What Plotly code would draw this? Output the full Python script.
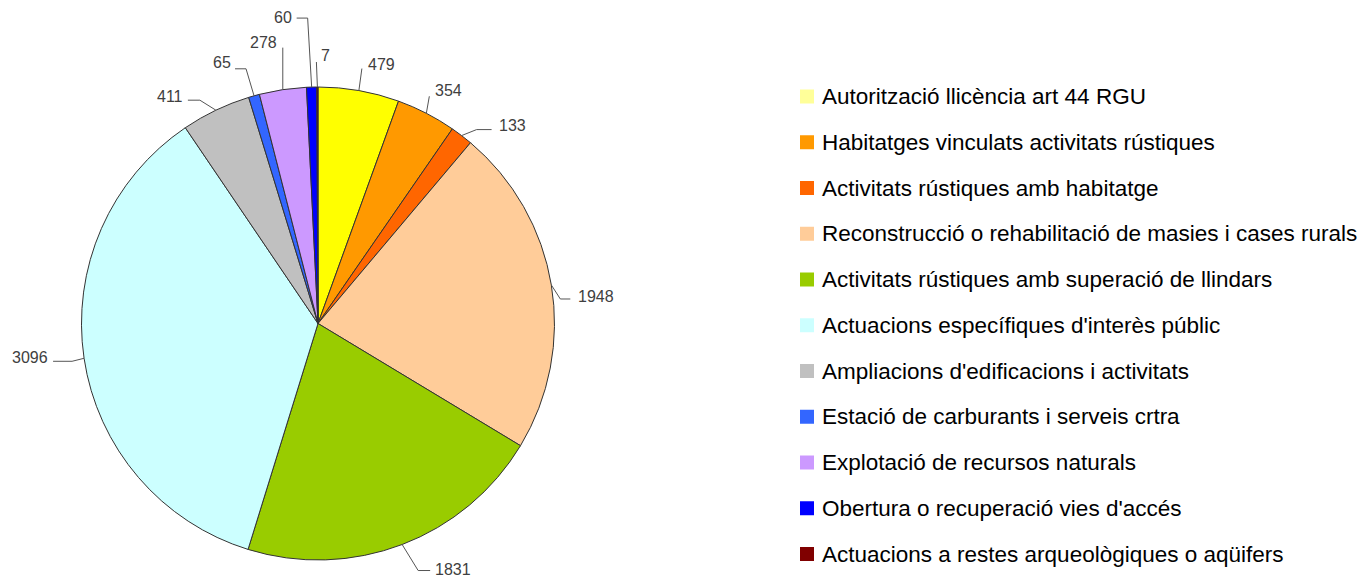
import math
import plotly.graph_objects as go

categories = [
    "Autorització llicència art 44 RGU",
    "Habitatges vinculats activitats rústiques",
    "Activitats rústiques amb habitatge",
    "Reconstrucció o rehabilitació de masies i cases rurals",
    "Activitats rústiques amb superació de llindars",
    "Actuacions específiques d'interès públic",
    "Ampliacions d'edificacions i activitats",
    "Estació de carburants i serveis crtra",
    "Explotació de recursos naturals",
    "Obertura o recuperació vies d'accés",
    "Actuacions a restes arqueològiques o aqüifers",
]
values = [479, 354, 133, 1948, 1831, 3096, 411, 65, 278, 60, 7]

slice_colors = ["#FFFF00", "#FF9900", "#FF6600", "#FFCC99", "#99CC00", "#CCFFFF",
                "#C0C0C0", "#3366FF", "#CC99FF", "#0000FF", "#800000"]
legend_colors = ["#FFFF99"] + slice_colors[1:]

W, H = 1364, 578

# pie geometry in pixels
cx, cy, r = 318, 323.5, 236.5

# leader line style per label: elbow offset from the rim, horizontal run,
# text anchor side and text offset from the line end
leaders = [
    ((3, -22), 0, "left", (4, -4)),
    ((3, -17), 0, "left", (4, -6)),
    ((15, -6), 15, "left", (5, -4)),
    ((9, 14), 10, "left", (6, -2)),
    ((16, 26), 12, "left", (3, -1)),
    ((-12, 3), -19, "right", (-3, -4)),
    ((-16, -10), -12, "right", (-3, -4)),
    ((-8, -27), -11, "right", (-2, -6)),
    ((0, -42), 0, "right", (-4, -5)),
    ((-4, -69), -11, "right", (-3, -1)),
    ((-1, -25), 0, "left", (3, -7)),
]


def px(x):
    return x / W


def py(y):
    return 1 - y / H


fig = go.Figure()

fig.add_trace(go.Pie(
    labels=categories,
    values=values,
    sort=False,
    direction="clockwise",
    rotation=0,
    textinfo="none",
    hoverinfo="label+value+percent",
    marker=dict(colors=slice_colors, line=dict(color="#333333", width=1)),
    domain=dict(x=[px(cx - r), px(cx + r)], y=[py(cy + r), py(cy - r)]),
    showlegend=False,
))

shapes = []
annotations = []

total = sum(values)
cum = 0
for v, (elbow, run, side, toff) in zip(values, leaders):
    ang = (cum + v / 2) / total * 2 * math.pi
    cum += v
    ex = cx + r * math.sin(ang)
    ey = cy - r * math.cos(ang)
    bx, by = ex + elbow[0], ey + elbow[1]
    tx, ty = bx + run, by
    shapes.append(dict(
        type="path", xref="paper", yref="paper",
        path=f"M {px(ex)} {py(ey)} L {px(bx)} {py(by)} L {px(tx)} {py(ty)}",
        line=dict(color="#555555", width=1),
    ))
    annotations.append(dict(
        x=px(tx + toff[0]), y=py(ty + toff[1]), xref="paper", yref="paper",
        text=str(v), showarrow=False, xanchor=side, yanchor="middle",
        font=dict(family="Liberation Sans, Arial", size=16, color="#404040"),
    ))

# legend
leg_x, leg_y0, leg_dy, sq = 800, 96.5, 45.75, 14
for i, (name, col) in enumerate(zip(categories, legend_colors)):
    yc = leg_y0 + i * leg_dy
    shapes.append(dict(
        type="rect", xref="paper", yref="paper",
        x0=px(leg_x), x1=px(leg_x + sq), y0=py(yc + sq / 2), y1=py(yc - sq / 2),
        fillcolor=col, line=dict(width=0),
    ))
    annotations.append(dict(
        x=px(leg_x + 20), y=py(yc), xref="paper", yref="paper",
        text=name, showarrow=False, xanchor="left", yanchor="middle",
        font=dict(family="Liberation Sans, Arial", size=22.5, color="#000000"),
    ))

fig.update_layout(
    width=W, height=H,
    margin=dict(l=0, r=0, t=0, b=0),
    paper_bgcolor="white",
    plot_bgcolor="white",
    shapes=shapes,
    annotations=annotations,
)

# drop the default body margin so the figure fills the page
fig.write_html("out.html",
               config={"displayModeBar": False},
               post_script="document.body.style.margin='0';"
                           "document.body.style.overflow='hidden';")
